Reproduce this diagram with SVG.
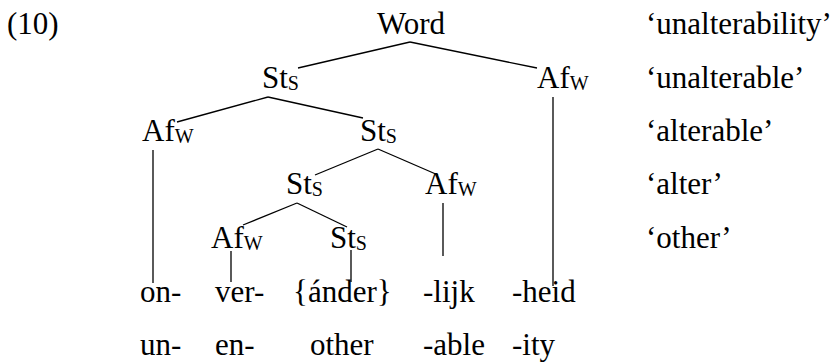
<svg xmlns="http://www.w3.org/2000/svg" width="838" height="363" viewBox="0 0 838 363">
<defs>
<style>
#connectors line{stroke:#000;stroke-width:1.3}
</style>
</defs>
<rect width="838" height="363" fill="#fff"/>
<g id="connectors">
<line x1="410" y1="42" x2="298" y2="68"/>
<line x1="410" y1="42" x2="537" y2="68"/>
<line x1="268" y1="97" x2="177" y2="122"/>
<line x1="268" y1="97" x2="363" y2="118"/>
<line x1="553" y1="97" x2="553" y2="286"/>
<line x1="153" y1="150" x2="153" y2="283"/>
<line x1="378" y1="149" x2="315" y2="175"/>
<line x1="378" y1="149" x2="438" y2="175"/>
<line x1="297" y1="203" x2="243" y2="225"/>
<line x1="297" y1="203" x2="347" y2="227"/>
<line x1="443" y1="203" x2="443" y2="256"/>
<line x1="231" y1="251" x2="231" y2="282"/>
<line x1="351" y1="250" x2="351" y2="282"/>
</g>
<g id="label"><text font-family="Liberation Serif" font-size="31" x="7" y="34">(10)</text></g>
<g id="word"><text font-family="Liberation Serif" font-size="31" x="377" y="34">Word</text></g>
<g id="st1"><text font-family="Liberation Serif" font-size="31" x="262" y="88">St<tspan font-size="20" dy="2">S</tspan></text></g>
<g id="af1"><text font-family="Liberation Serif" font-size="31" x="537" y="88">Af<tspan font-size="20" dy="2">W</tspan></text></g>
<g id="af2"><text font-family="Liberation Serif" font-size="31" x="142" y="141">Af<tspan font-size="20" dy="2">W</tspan></text></g>
<g id="st2"><text font-family="Liberation Serif" font-size="31" x="360" y="141">St<tspan font-size="20" dy="2">S</tspan></text></g>
<g id="st3"><text font-family="Liberation Serif" font-size="31" x="286" y="194">St<tspan font-size="20" dy="2">S</tspan></text></g>
<g id="af3"><text font-family="Liberation Serif" font-size="31" x="425" y="194">Af<tspan font-size="20" dy="2">W</tspan></text></g>
<g id="af4"><text font-family="Liberation Serif" font-size="31" x="211" y="248">Af<tspan font-size="20" dy="2">W</tspan></text></g>
<g id="st4"><text font-family="Liberation Serif" font-size="31" x="330" y="248">St<tspan font-size="20" dy="2">S</tspan></text></g>
<g id="morphemes">
<text font-family="Liberation Serif" font-size="31" x="140" y="302">on-</text>
<text font-family="Liberation Serif" font-size="31" x="215" y="302">ver-</text>
<text font-family="Liberation Serif" font-size="31" x="293" y="302">{ánder}</text>
<text font-family="Liberation Serif" font-size="31" x="423" y="302">-lijk</text>
<text font-family="Liberation Serif" font-size="31" x="512" y="302">-heid</text>
</g>
<g id="glosses">
<text font-family="Liberation Serif" font-size="31" x="140" y="355">un-</text>
<text font-family="Liberation Serif" font-size="31" x="215" y="355">en-</text>
<text font-family="Liberation Serif" font-size="31" x="310" y="355">other</text>
<text font-family="Liberation Serif" font-size="31" x="423" y="355">-able</text>
<text font-family="Liberation Serif" font-size="31" x="512" y="355">-ity</text>
</g>
<g id="meanings">
<text font-family="Liberation Serif" font-size="31" x="646" y="34">‘unalterability’</text>
<text font-family="Liberation Serif" font-size="31" x="646" y="88">‘unalterable’</text>
<text font-family="Liberation Serif" font-size="31" x="646" y="141">‘alterable’</text>
<text font-family="Liberation Serif" font-size="31" x="646" y="194">‘alter’</text>
<text font-family="Liberation Serif" font-size="31" x="646" y="248">‘other’</text>
</g>
</svg>
